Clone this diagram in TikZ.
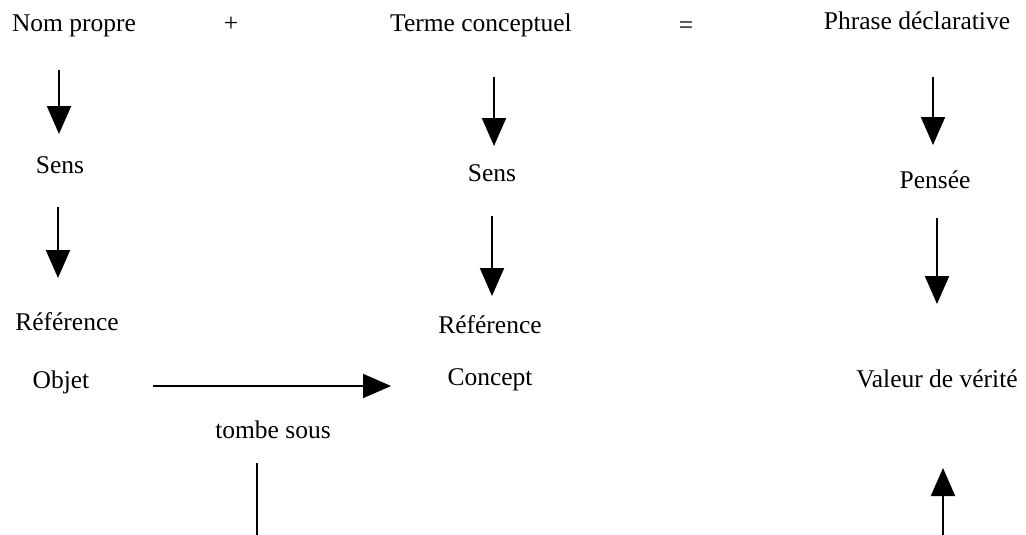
\documentclass[tikz,border=0pt]{standalone}
\usepackage{fontspec}
\setmainfont{Liberation Serif}
\usetikzlibrary{arrows.meta,calc}
\begin{document}
\begin{tikzpicture}[x=1pt,y=-1pt,
  lbl/.style={anchor=base,inner sep=0pt,font=\fontsize{25.5}{30}\selectfont},
  arr/.style={line width=2pt,-{Triangle[length=28pt,width=24pt]}},
  ln/.style={line width=2pt}]
\useasboundingbox (0,0) rectangle (1026,535);
% top row
\node[lbl] (np) at (74,32) {Nom propre};
\node[lbl] (plus) at (231,32) {+};
\node[lbl] (tc) at (481,32) {Terme conceptuel};
\node[lbl] (eq) at (686,34) {=};
\node[lbl] (pd) at (917,30) {Phrase déclarative};
% second row
\node[lbl] (sens1) at (60,173) {Sens};
\node[lbl] (sens2) at (492,181) {Sens};
\node[lbl] (pensee) at (935,188) {Pensée};
% third row
\node[lbl] (ref1) at (67,330) {Référence};
\node[lbl] (ref2) at (490,333) {Référence};
\node[lbl] (objet) at (61,388) {Objet};
\node[lbl] (concept) at (490,385) {Concept};
\node[lbl] (valeur) at (937,387) {Valeur de vérité};
\node[lbl] (tombe) at (273,438) {tombe sous};
% free ends at the bottom edge
\coordinate (bot1) at (257,535);
\coordinate (bot2) at (943,535);
% arrows
\draw[arr] ($(np.base)+(-15,38)$) -- ($(sens1.base)+(-1,-39)$);
\draw[arr] ($(sens1.base)+(-2,34)$) -- ($(ref1.base)+(-9,-52)$);
\draw[arr] ($(tc.base)+(13,45)$) -- ($(sens2.base)+(2,-35)$);
\draw[arr] ($(sens2.base)+(0,35)$) -- ($(ref2.base)+(2,-37)$);
\draw[arr] ($(pd.base)+(16,47)$) -- ($(pensee.base)+(-2,-43)$);
\draw[arr] ($(pensee.base)+(2,30)$) -- ($(valeur.base)+(0,-83)$);
\draw[arr] (bot2) -- ($(valeur.base)+(6,81)$);
\draw[arr] ($(objet.base)+(92,-2)$) -- ($(concept.base)+(-99,1)$);
\draw[ln] ($(tombe.base)+(-16,25)$) -- (bot1);
\end{tikzpicture}
\end{document}
